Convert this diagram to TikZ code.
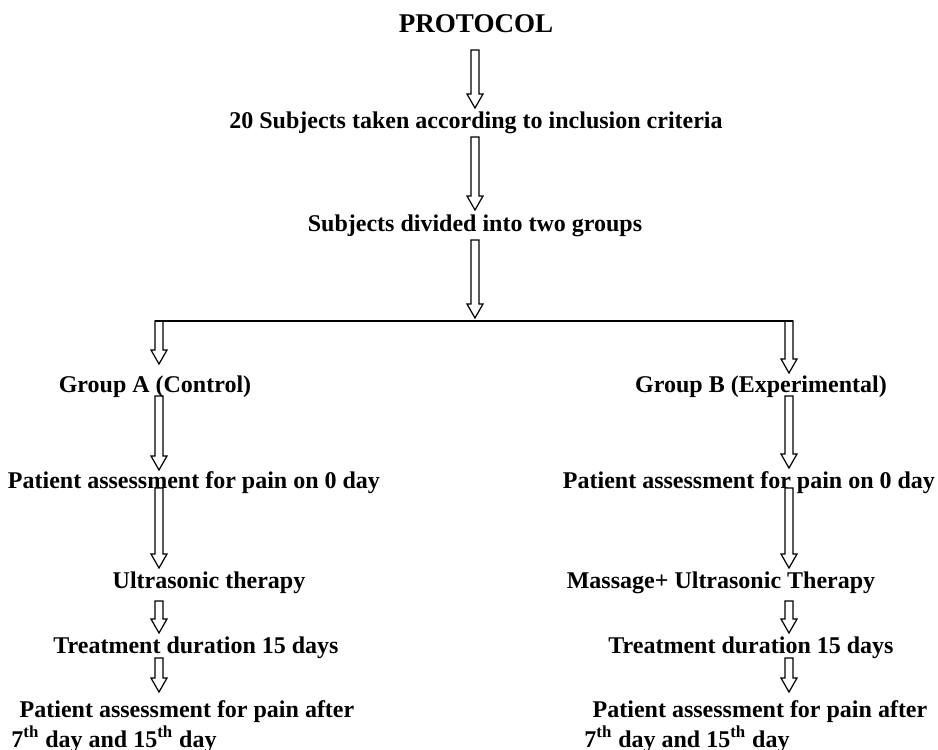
\documentclass[tikz,border=0pt]{standalone}
\usepackage{fontspec}
\setmainfont{Liberation Serif}
\usetikzlibrary{calc}

\begin{document}
\begin{tikzpicture}[
	x=0.02cm, y=-0.02cm,
	every node/.style={inner sep=0pt, anchor=base},
	Step/.style={font=\fontsize{13.66}{16}\selectfont\bfseries},
	Title/.style={font=\fontsize{15.4}{18}\selectfont\bfseries},
	BlockArrow/.style={draw, line width=0.7pt, line join=miter,
		to path={let \p1=(\tikztostart), \p2=(\tikztotarget) in
			(\x1-0.08cm,\y1) -- (\x1-0.08cm,\y2+0.28cm) -- (\x1-0.16cm,\y2+0.28cm)
			-- (\x1,\y2) -- (\x1+0.16cm,\y2+0.28cm) -- (\x1+0.08cm,\y2+0.28cm)
			-- (\x1+0.08cm,\y1) -- cycle}}
	]
	
\useasboundingbox (0,0) rectangle (938,750);

\coordinate (axC) at (475,0);
\coordinate (axA) at (159,0);
\coordinate (axB) at (789,0);
\coordinate (splitA) at (159,321);
\coordinate (splitB) at (789,321);

\node [Title] (proto) at (476,33) {PROTOCOL};
\node [Step] (subj) at (476,129) {20 Subjects taken according to inclusion criteria};
\node [Step] (divide) at (475,232) {Subjects divided into two groups};

\node [Step] (grpA) at (155,393) {Group A (Control)};
\node [Step] (grpB) at (761,393) {Group B (Experimental)};
\node [Step] (preA) at (194,488) {Patient assessment for pain on 0 day};
\node [Step] (preB) at (749,488) {Patient assessment for pain on 0 day};
\node [Step] (usA) at (209,588) {Ultrasonic therapy};
\node [Step] (usB) at (721,588) {Massage+ Ultrasonic Therapy};
\node [Step] (durA) at (196,653) {Treatment duration 15 days};
\node [Step] (durB) at (751,653) {Treatment duration 15 days};
\node [Step] (postA) at (187,717) {Patient assessment for pain after};
\node [Step] (postB) at (760,717) {Patient assessment for pain after};
\node [Step] (daysA) at (114,747) {7\textsuperscript{th} day and 15\textsuperscript{th} day};
\node [Step] (daysB) at (687,747) {7\textsuperscript{th} day and 15\textsuperscript{th} day};

\draw [BlockArrow] ($(proto.base -| axC)+(0,17)$) to ($(subj.base -| axC)+(0,-21)$);
\draw [BlockArrow] ($(subj.base -| axC)+(0,8)$) to ($(divide.base -| axC)+(0,-22)$);
\draw [BlockArrow] ($(divide.base -| axC)+(0,8)$) to ($(splitA -| axC)+(0,-3)$);
\draw [line width=1.1pt] ($(splitA)+(-4,0)$) -- ($(splitB)+(4,0)$);

\draw [BlockArrow] (splitA) to ($(grpA.base -| axA)+(0,-29)$);
\draw [BlockArrow] (splitB) to ($(grpB.base -| axB)+(0,-20)$);
\draw [BlockArrow] ($(grpA.base -| axA)+(0,3)$) to ($(preA.base -| axA)+(0,-18)$);
\draw [BlockArrow] ($(grpB.base -| axB)+(0,3)$) to ($(preB.base -| axB)+(0,-20)$);
\draw [BlockArrow] ($(preA.base -| axA)+(0,0)$) to ($(usA.base -| axA)+(0,-20)$);
\draw [BlockArrow] ($(preB.base -| axB)+(0,0)$) to ($(usB.base -| axB)+(0,-20)$);
\draw [BlockArrow] ($(usA.base -| axA)+(0,13)$) to ($(durA.base -| axA)+(0,-20)$);
\draw [BlockArrow] ($(usB.base -| axB)+(0,13)$) to ($(durB.base -| axB)+(0,-20)$);
\draw [BlockArrow] ($(durA.base -| axA)+(0,5)$) to ($(postA.base -| axA)+(0,-25)$);
\draw [BlockArrow] ($(durB.base -| axB)+(0,5)$) to ($(postB.base -| axB)+(0,-25)$);

\end{tikzpicture}
\end{document}
